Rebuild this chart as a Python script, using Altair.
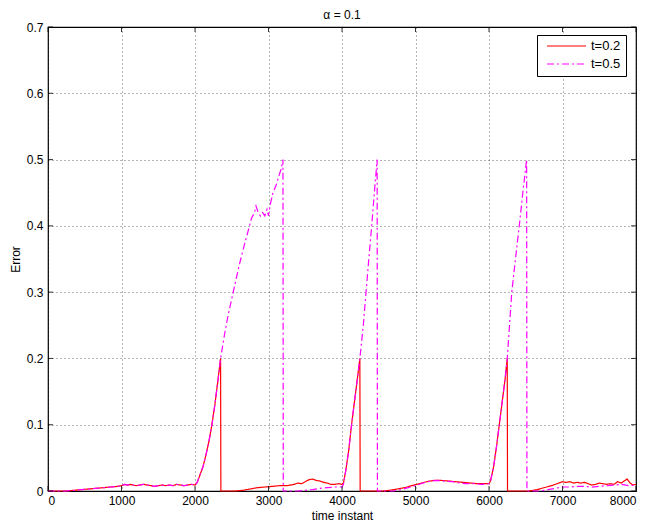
import altair as alt
import pandas as pd

series_names = ["t=0.2", "t=0.5"]
x_ticks = [0, 1000, 2000, 3000, 4000, 5000, 6000, 7000, 8000]
y_ticks = [0, 0.1, 0.2, 0.3, 0.4, 0.5, 0.6, 0.7]

# shared first episode (both thresholds)
ep1_x = [0, 250, 350, 450, 550, 650, 750, 850, 950, 1000, 1040, 1080, 1120, 1160, 1200,
         1250, 1300, 1350, 1400, 1450, 1500, 1550, 1600, 1650, 1700, 1750, 1800, 1850, 1900, 1950,
         2000, 2030, 2070, 2110, 2150, 2190, 2230, 2270, 2310, 2348]
ep1_y = [0, 0, 0.001, 0.002, 0.003, 0.004, 0.005, 0.006, 0.007, 0.008, 0.01, 0.009, 0.01, 0.009, 0.008,
         0.009, 0.01, 0.009, 0.008, 0.007, 0.008, 0.009, 0.008, 0.009, 0.008, 0.01, 0.009, 0.008, 0.009, 0.01,
         0.009, 0.013, 0.025, 0.037, 0.055, 0.075, 0.1, 0.13, 0.165, 0.2]

# t = 0.2 after first reset
red_x2 = [2352, 2550, 2650, 2750, 2850, 2950, 3050, 3150, 3250, 3350, 3400, 3450, 3500, 3550, 3600,
          3650, 3700, 3750, 3800, 3850, 3900, 3950, 4000, 4020, 4050, 4090, 4130, 4170, 4210, 4243]
red_y2 = [0, 0, 0.001, 0.003, 0.005, 0.006, 0.007, 0.008, 0.008, 0.01, 0.012, 0.011, 0.014, 0.017, 0.018,
          0.016, 0.015, 0.013, 0.012, 0.01, 0.01, 0.011, 0.01, 0.012, 0.03, 0.06, 0.1, 0.135, 0.17, 0.2]
red_x3 = [4247, 4550, 4650, 4750, 4850, 4950, 5050, 5150, 5250, 5350, 5450, 5550, 5650, 5750, 5850,
          5950, 6000, 6020, 6060, 6100, 6140, 6180, 6220, 6248]
red_y3 = [0, 0, 0.001, 0.003, 0.005, 0.008, 0.011, 0.014, 0.016, 0.016, 0.015, 0.014, 0.013, 0.012, 0.011,
          0.011, 0.011, 0.015, 0.035, 0.065, 0.1, 0.135, 0.17, 0.2]
red_x4 = [6252, 6550, 6650, 6750, 6850, 6950, 7000, 7050, 7100, 7150, 7200, 7250, 7300, 7350, 7400,
          7450, 7500, 7550, 7600, 7650, 7700, 7750, 7800, 7850, 7880, 7920, 7960, 8000]
red_y4 = [0, 0, 0.002, 0.005, 0.008, 0.012, 0.014, 0.013, 0.014, 0.012, 0.013, 0.012, 0.013, 0.011, 0.009,
          0.01, 0.012, 0.011, 0.01, 0.011, 0.01, 0.014, 0.012, 0.016, 0.018, 0.012, 0.009, 0.01]

# t = 0.5 continuation and later episodes
mag_x1 = [2400, 2450, 2520, 2600, 2680, 2730, 2770, 2810, 2830, 2860, 2890, 2920, 2950, 2980, 3000,
          3020, 3060, 3100, 3140, 3170, 3197]
mag_y1 = [0.235, 0.265, 0.3, 0.34, 0.375, 0.395, 0.412, 0.42, 0.43, 0.42, 0.415, 0.42, 0.415, 0.425, 0.415,
          0.43, 0.45, 0.46, 0.475, 0.485, 0.5]
mag_x2 = [3201, 3400, 3500, 3600, 3700, 3800, 3900, 4000, 4020, 4050, 4090, 4130, 4170, 4210, 4243,
          4290, 4327, 4365, 4404, 4440, 4478]
mag_y2 = [0, 0, 0.001, 0.002, 0.004, 0.005, 0.006, 0.006, 0.01, 0.03, 0.06, 0.1, 0.135, 0.17, 0.2,
          0.25, 0.3, 0.35, 0.4, 0.45, 0.5]
mag_x3 = [4482, 4700, 4800, 4900, 5000, 5100, 5200, 5300, 5400, 5500, 5600, 5700, 5800, 5900, 6000,
          6020, 6060, 6100, 6140, 6180, 6220, 6248, 6310, 6360, 6412, 6460, 6512]
mag_y3 = [0, 0, 0.002, 0.005, 0.008, 0.012, 0.015, 0.016, 0.015, 0.014, 0.012, 0.011, 0.011, 0.01, 0.011,
          0.015, 0.035, 0.065, 0.1, 0.135, 0.17, 0.2, 0.3, 0.35, 0.4, 0.45, 0.5]
mag_x4 = [6516, 6700, 6800, 6900, 7000, 7100, 7200, 7300, 7400, 7500, 7600, 7700, 7800, 7900, 8000]
mag_y4 = [0, 0, 0.002, 0.004, 0.006, 0.006, 0.007, 0.007, 0.006, 0.007, 0.008, 0.009, 0.01, 0.008, 0.009]

red_x = ep1_x + red_x2 + red_x3 + red_x4
red_y = ep1_y + red_y2 + red_y3 + red_y4
mag_x = ep1_x + mag_x1 + mag_x2 + mag_x3 + mag_x4
mag_y = ep1_y + mag_y1 + mag_y2 + mag_y3 + mag_y4

df = pd.concat([
    pd.DataFrame({"time": red_x, "err": red_y, "series": series_names[0], "idx": range(len(red_x))}),
    pd.DataFrame({"time": mag_x, "err": mag_y, "series": series_names[1], "idx": range(len(mag_x))}),
], ignore_index=True)

FONT = "Liberation Sans"
W, H = 588, 464

xscale = alt.Scale(domain=[0, 8000], nice=False, zero=False)
yscale = alt.Scale(domain=[0, 0.7], nice=False)

legend_opts = dict(title=None, orient="none", legendX=489, legendY=8,
                   strokeColor="black", fillColor="white", padding=5,
                   symbolType="stroke", symbolSize=1521, symbolStrokeWidth=1.2, symbolOffset=4,
                   clipHeight=12, rowPadding=5, labelOffset=4,
                   labelFont=FONT, labelFontSize=13)

lines = alt.Chart(df).mark_line(strokeWidth=1.2).encode(
    x=alt.X("time:Q", scale=xscale,
            axis=alt.Axis(values=x_ticks, title="time instant", format="d", labelPadding=4, titlePadding=4)),
    y=alt.Y("err:Q", scale=yscale,
            axis=alt.Axis(values=y_ticks, title="Error", labelPadding=5, titlePadding=4,
                          labelExpr="datum.value == 0 ? '0' : format(datum.value, '.1f')")),
    color=alt.Color("series:N", scale=alt.Scale(domain=series_names, range=["#ff0000", "#ff00ff"]),
                    legend=alt.Legend(**legend_opts)),
    strokeDash=alt.StrokeDash("series:N", scale=alt.Scale(domain=series_names, range=[[1, 0], [7, 3, 2, 3]]),
                              legend=alt.Legend(**legend_opts)),
    order=alt.Order("idx:Q"),
    detail="series:N",
)

xt = pd.DataFrame({"time": x_ticks})
yt = pd.DataFrame({"err": y_ticks})
tick_bottom = alt.Chart(xt).mark_rule(color="black", strokeWidth=0.8).encode(
    x=alt.X("time:Q", scale=xscale), y=alt.value(H), y2=alt.value(H - 5))
tick_top = alt.Chart(xt).mark_rule(color="black", strokeWidth=0.8).encode(
    x=alt.X("time:Q", scale=xscale), y=alt.value(0), y2=alt.value(5))
tick_left = alt.Chart(yt).mark_rule(color="black", strokeWidth=0.8).encode(
    y=alt.Y("err:Q", scale=yscale), x=alt.value(0), x2=alt.value(5))
tick_right = alt.Chart(yt).mark_rule(color="black", strokeWidth=0.8).encode(
    y=alt.Y("err:Q", scale=yscale), x=alt.value(W), x2=alt.value(W - 5))

chart = alt.layer(lines, tick_bottom, tick_top, tick_left, tick_right).properties(
    width=W, height=H,
    title=alt.TitleParams("α = 0.1", font=FONT, fontSize=12, fontWeight="normal", offset=-1, color="black"),
    autosize=alt.AutoSizeParams(type="none"),
    padding={"left": 40, "top": 19, "right": 6, "bottom": 37},
).configure_view(stroke="black", strokeWidth=1.2).configure_axis(
    grid=True, gridColor="#000000", gridOpacity=0.75, gridDash=[1, 3], gridWidth=0.8,
    ticks=False, domain=False,
    labelFont=FONT, labelFontSize=12, labelColor="black",
    titleFont=FONT, titleFontSize=12, titleFontWeight="normal", titleColor="black",
).configure_legend(labelColor="black")

chart.save("out.html", embed_options={"renderer": "svg", "actions": False})
